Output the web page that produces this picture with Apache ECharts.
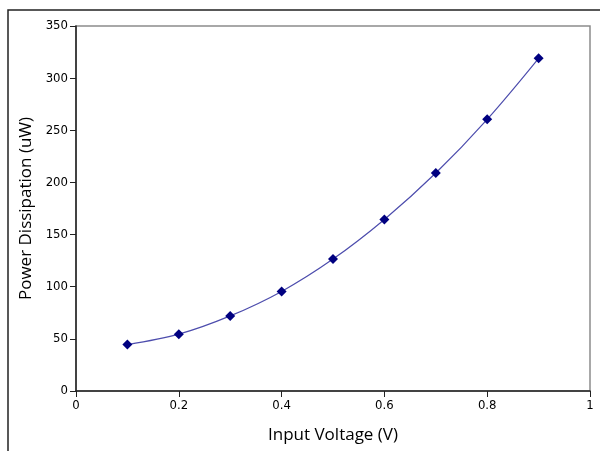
<!DOCTYPE html>
<html>
<head>
<meta charset="utf-8">
<script src="https://cdn.jsdelivr.net/npm/echarts@6/dist/echarts.min.js"></script>
<style>
  html, body { margin: 0; padding: 0; background: #fff; }
  #chart { width: 600px; height: 451px; }
</style>
</head>
<body>
<div id="chart"></div>
<script>
// Input voltage (V) and measured power dissipation (uW)
const voltage = [0.1, 0.2, 0.3, 0.4, 0.5, 0.6, 0.7, 0.8, 0.9];
const power = [44.5, 54.5, 72, 95.5, 126.5, 164.5, 209, 260.5, 319];

const xTitle = 'Input Voltage (V)';
const yTitle = 'Power Dissipation (uW)';

const points = voltage.map((v, i) => [v, power[i]]);

const chart = echarts.init(document.getElementById('chart'), null, { renderer: 'canvas' });

const tickFont = { color: '#000', fontFamily: 'DejaVu Sans Condensed', fontSize: 13 };
const titleFont = { color: '#000', fontFamily: 'Open Sans', fontSize: 17 };

chart.setOption({
  backgroundColor: '#fff',
  animation: false,
  graphic: [{
    type: 'rect',
    shape: { x: 8, y: 10, width: 800, height: 800 },
    style: { fill: 'none', stroke: '#222', lineWidth: 1.5 },
    silent: true
  }],
  grid: {
    left: 76, right: 10, top: 26, bottom: 60,
    show: true,
    borderColor: '#8c8c8c',
    borderWidth: 1.5,
    backgroundColor: 'transparent'
  },
  xAxis: {
    type: 'value',
    min: 0, max: 1, interval: 0.2,
    name: xTitle,
    nameLocation: 'middle',
    nameGap: 36,
    nameTextStyle: titleFont,
    axisLine: { show: true, onZero: false, lineStyle: { color: '#222', width: 1.5 } },
    axisTick: { show: true, inside: false, length: 6, lineStyle: { color: '#222' } },
    axisLabel: Object.assign({ margin: 8 }, tickFont),
    splitLine: { show: false }
  },
  yAxis: {
    type: 'value',
    min: 0, max: 350, interval: 50,
    name: yTitle,
    nameLocation: 'middle',
    nameGap: 41,
    nameRotate: 90,
    nameTextStyle: titleFont,
    axisLine: { show: true, onZero: false, lineStyle: { color: '#222', width: 1.5 } },
    axisTick: { show: true, inside: false, length: 6, lineStyle: { color: '#222' } },
    axisLabel: Object.assign({ margin: 8 }, tickFont),
    splitLine: { show: false }
  },
  series: [{
    type: 'line',
    data: points,
    smooth: 0.35,
    symbol: 'diamond',
    symbolSize: 10,
    lineStyle: { color: '#4d4dad', width: 1.2 },
    itemStyle: { color: '#000080', borderColor: '#000080', borderWidth: 0 },
    z: 3
  }]
});
</script>
</body>
</html>
